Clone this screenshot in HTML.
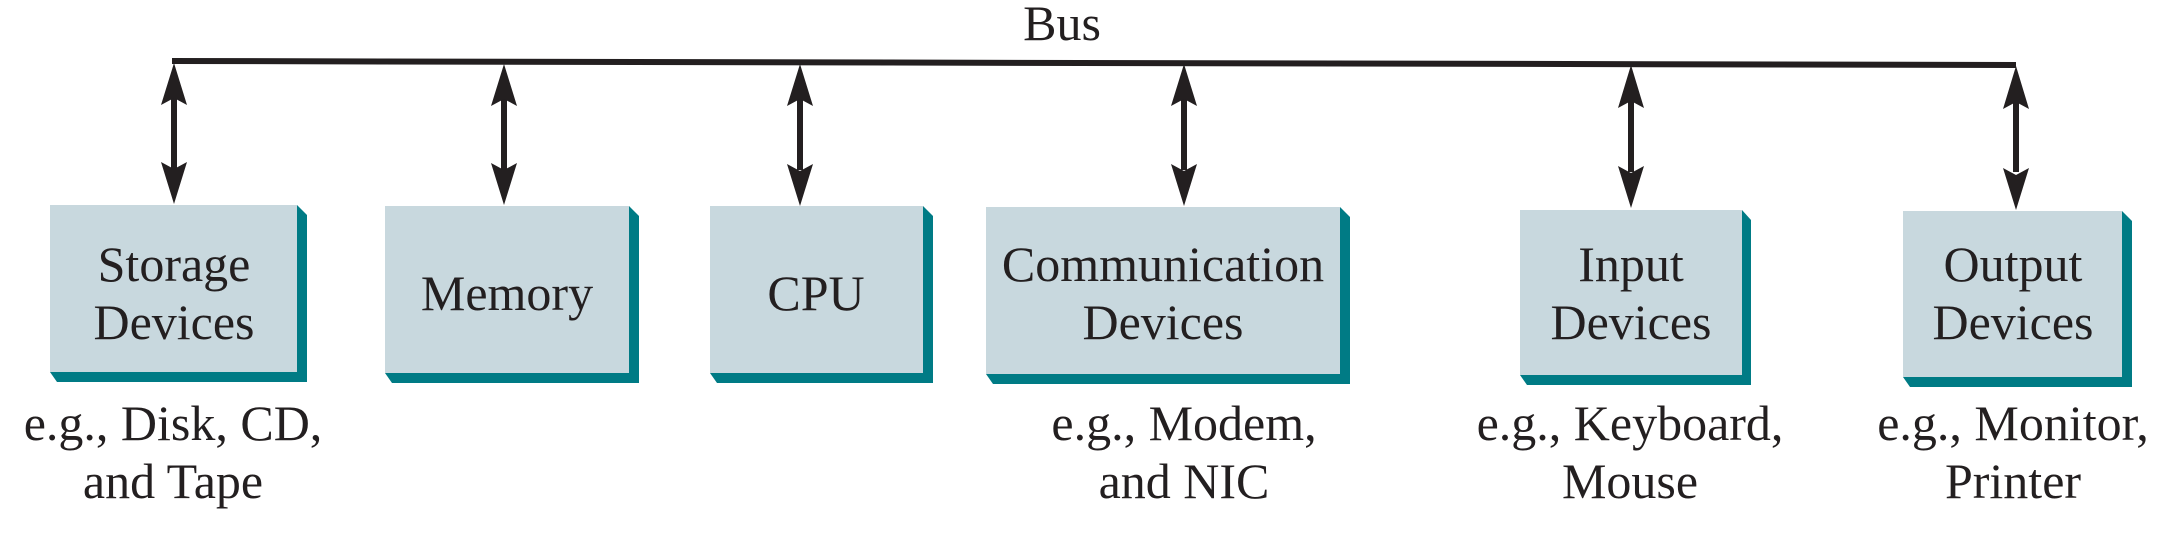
<!DOCTYPE html>
<html><head><meta charset="utf-8"><style>
html,body{margin:0;padding:0;background:#fff;}
svg{display:block;}
text{font-family:"Liberation Serif","Times New Roman",Times,serif;font-size:50px;fill:#231f20;text-anchor:middle;}
</style></head><body>
<svg width="2166" height="533" viewBox="0 0 2166 533" xmlns="http://www.w3.org/2000/svg" font-family="Liberation Serif, serif">
<text x="1062" y="40" font-family="Liberation Serif, serif">Bus</text>
<line x1="172" y1="61" x2="2016" y2="65" stroke="#231f20" stroke-width="6"/>
<g stroke="#231f20" stroke-width="6">
<line x1="174" y1="95" x2="174" y2="170"/>
<line x1="504" y1="95" x2="504" y2="170"/>
<line x1="800" y1="95" x2="800" y2="170"/>
<line x1="1184" y1="95" x2="1184" y2="170"/>
<line x1="1631" y1="98" x2="1631" y2="172"/>
<line x1="2016" y1="98" x2="2016" y2="172"/>
</g>
<g fill="#231f20">
<path d="M174,63 L187,105 L174,98 L161,105 Z"/><path d="M174,204 L187,162 L174,169 L161,162 Z"/>
<path d="M504,64 L517,106 L504,99 L491,106 Z"/><path d="M504,205 L517,163 L504,170 L491,163 Z"/>
<path d="M800,64 L813,106 L800,99 L787,106 Z"/><path d="M800,206 L813,164 L800,171 L787,164 Z"/>
<path d="M1184,64 L1197,106 L1184,99 L1171,106 Z"/><path d="M1184,206 L1197,164 L1184,171 L1171,164 Z"/>
<path d="M1631,65 L1644,108 L1631,101 L1618,108 Z"/><path d="M1631,208 L1644,166 L1631,173 L1618,166 Z"/>
<path d="M2016,66 L2029,109 L2016,102 L2003,109 Z"/><path d="M2016,210 L2029,168 L2016,175 L2003,168 Z"/>
</g>
<g fill="#007b85">
<path d="M297,205 L307,215 L307,382 L57,382 L50,372 L297,372 Z"/>
<path d="M629,206 L639,216 L639,383 L392,383 L385,373 L629,373 Z"/>
<path d="M923,206 L933,216 L933,383 L717,383 L710,373 L923,373 Z"/>
<path d="M1340,207 L1350,217 L1350,384 L993,384 L986,374 L1340,374 Z"/>
<path d="M1742,210 L1751,220 L1751,385 L1527,385 L1520,375 L1742,375 Z"/>
<path d="M2122,211 L2132,221 L2132,387 L1910,387 L1903,377 L2122,377 Z"/>
</g>
<g fill="#c8d8de">
<rect x="50" y="205" width="247" height="167"/>
<rect x="385" y="206" width="244" height="167"/>
<rect x="710" y="206" width="213" height="167"/>
<rect x="986" y="207" width="354" height="167"/>
<rect x="1520" y="210" width="222" height="165"/>
<rect x="1903" y="211" width="219" height="166"/>
</g>
<g font-family="Liberation Serif, serif">
<text x="174" y="281">Storage</text><text x="174" y="339">Devices</text>
<text x="507" y="310">Memory</text>
<text x="816" y="310">CPU</text>
<text x="1163" y="281">Communication</text><text x="1163" y="339">Devices</text>
<text x="1631" y="281">Input</text><text x="1631" y="339">Devices</text>
<text x="2013" y="281">Output</text><text x="2013" y="339">Devices</text>
<text x="173" y="440">e.g., Disk, CD,</text><text x="173" y="498">and Tape</text>
<text x="1184" y="440">e.g., Modem,</text><text x="1184" y="498">and NIC</text>
<text x="1630" y="440">e.g., Keyboard,</text><text x="1630" y="498">Mouse</text>
<text x="2013" y="440">e.g., Monitor,</text><text x="2013" y="498">Printer</text>
</g>
</svg>
</body></html>
